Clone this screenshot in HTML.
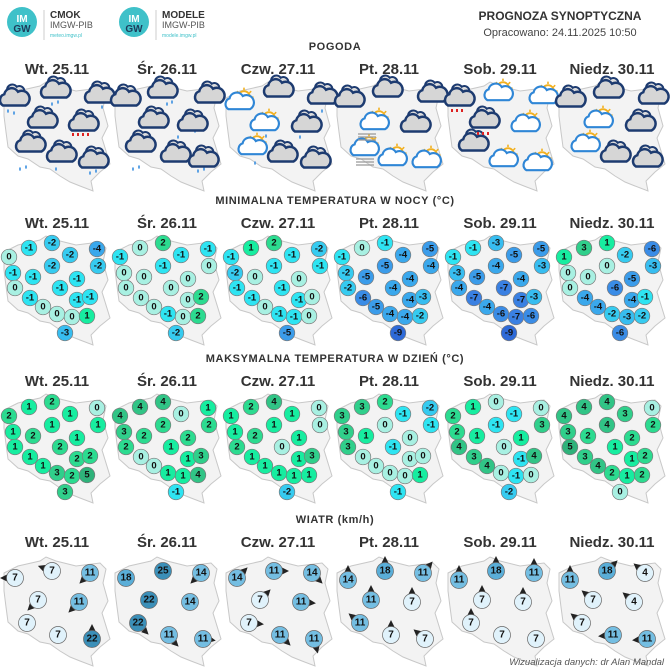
<!DOCTYPE html>
<html><head><meta charset="utf-8">
<style>
html,body{margin:0;padding:0;background:#fff;}
svg{display:block;font-family:"Liberation Sans",sans-serif;}
.t circle{stroke:#7a7a7a;stroke-width:.7}
.t text{font-size:9.5px;font-weight:bold;text-anchor:middle;dominant-baseline:central;fill:#111}
.p5{fill:#2eb27a}.p4{fill:#31c486}.p3{fill:#30cf8b}.p2{fill:#2cdb90}.p1{fill:#17eda0}.z{fill:#a8f0e2}
.m1{fill:#2ee4f2}.m2{fill:#36cbf0}.m3{fill:#37bdf0}.m4{fill:#3aa8ec}.m5{fill:#3b9cea}.m6{fill:#3a8ce6}.m7{fill:#3a80e2}.m9{fill:#2e6ad8}
.w circle{stroke:#666;stroke-width:.7}
.w text{font-size:10px;font-weight:bold;text-anchor:middle;dominant-baseline:central;fill:#111}
.wl{fill:#e0f2fb}.wm{fill:#74bee2}.wh{fill:#5aaed8}.wd{fill:#3b8fb8}
.day{font-size:15px;font-weight:bold;fill:#333;text-anchor:middle}
.hd{font-size:11px;font-weight:bold;fill:#333;text-anchor:middle;letter-spacing:.6px}
</style></head><body>
<svg width="671" height="672" viewBox="0 0 671 672" xmlns="http://www.w3.org/2000/svg">
<defs>
<path id="pl" d="M4,252 L18,245 L40,240 L46,236 L56,240 L76,245 L100,242 L106,248 L103,262 L108,280 L102,292 L110,318 L100,326 L91,335 L93,345 L80,340 L70,336 L60,330 L50,323 L40,321 L28,313 L18,310 L8,301 L6,286 L4,270 Z" fill="#f3f3f3" stroke="#c8c8c8" stroke-width="1"/>
<g id="dc0"><path d="M-4,-4 a4,4 0 0 1 7,-5 a4,4 0 0 1 6,4" fill="#ddd" stroke="#1d3b70" stroke-width="1.6"/><path d="M-8,6 a5,5 0 0 1 1,-9 a6,6 0 0 1 11,-2 a5,5 0 0 1 6,11 z" fill="#d6d6d6" stroke="#1d3b70" stroke-width="2"/></g>
<g id="dc"><use href="#dc0" transform="scale(1.25)"/></g>
<g id="lc0"><circle cx="5" cy="-4" r="5" fill="#fff" stroke="#f2b01e" stroke-width="1.5"/><path d="M5,-12v2M11,-9l-1.5,1.5M13,-4h-2M-1,-9l1.5,1.5" stroke="#f2b01e" stroke-width="1.3"/><path d="M-8,6 a5,5 0 0 1 1,-9 a6,6 0 0 1 11,-2 a5,5 0 0 1 6,11 z" fill="#fff" stroke="#2f86d6" stroke-width="1.8"/></g>
<g id="lc"><use href="#lc0" transform="scale(1.2)"/></g>
<polygon id="ar" points="0,-15 -3.5,-8 3.5,-8" fill="#222"/>
</defs>

<!-- header -->
<circle cx="22" cy="22" r="15" fill="#3fc1c9"/>
<text x="22" y="22" font-size="10" font-weight="bold" fill="#fff" text-anchor="middle">IM</text>
<text x="22" y="32" font-size="10" font-weight="bold" fill="#1d3b5a" text-anchor="middle">GW</text>
<line x1="44" y1="10" x2="44" y2="40" stroke="#ccc"/>
<text x="50" y="18" font-size="10" font-weight="bold" fill="#333">CMOK</text>
<text x="50" y="28" font-size="9" fill="#555">IMGW-PIB</text>
<text x="50" y="37" font-size="5" fill="#3fc1c9">meteo.imgw.pl</text>
<circle cx="134" cy="22" r="15" fill="#3fc1c9"/>
<text x="134" y="22" font-size="10" font-weight="bold" fill="#fff" text-anchor="middle">IM</text>
<text x="134" y="32" font-size="10" font-weight="bold" fill="#1d3b5a" text-anchor="middle">GW</text>
<line x1="156" y1="10" x2="156" y2="40" stroke="#ccc"/>
<text x="162" y="18" font-size="10" font-weight="bold" fill="#333">MODELE</text>
<text x="162" y="28" font-size="9" fill="#555">IMGW-PIB</text>
<text x="162" y="37" font-size="5" fill="#3fc1c9">modele.imgw.pl</text>
<text x="560" y="20" font-size="12" font-weight="bold" fill="#333" text-anchor="middle">PROGNOZA SYNOPTYCZNA</text>
<text x="560" y="36" font-size="11" fill="#444" text-anchor="middle">Opracowano: 24.11.2025 10:50</text>

<text class="hd" x="335" y="50">POGODA</text>
<text class="hd" x="335" y="204">MINIMALNA TEMPERATURA W NOCY (°C)</text>
<text class="hd" x="335" y="362">MAKSYMALNA TEMPERATURA W DZIEŃ (°C)</text>
<text class="hd" x="335" y="523">WIATR (km/h)</text>

<g>
<text class="day" x="57" y="74">Wt. 25.11</text><text class="day" x="167" y="74">Śr. 26.11</text><text class="day" x="278" y="74">Czw. 27.11</text><text class="day" x="389" y="74">Pt. 28.11</text><text class="day" x="500" y="74">Sob. 29.11</text><text class="day" x="612" y="74">Niedz. 30.11</text>
<text class="day" x="57" y="228">Wt. 25.11</text><text class="day" x="167" y="228">Śr. 26.11</text><text class="day" x="278" y="228">Czw. 27.11</text><text class="day" x="389" y="228">Pt. 28.11</text><text class="day" x="500" y="228">Sob. 29.11</text><text class="day" x="612" y="228">Niedz. 30.11</text>
<text class="day" x="57" y="386">Wt. 25.11</text><text class="day" x="167" y="386">Śr. 26.11</text><text class="day" x="278" y="386">Czw. 27.11</text><text class="day" x="389" y="386">Pt. 28.11</text><text class="day" x="500" y="386">Sob. 29.11</text><text class="day" x="612" y="386">Niedz. 30.11</text>
<text class="day" x="57" y="547">Wt. 25.11</text><text class="day" x="167" y="547">Śr. 26.11</text><text class="day" x="278" y="547">Czw. 27.11</text><text class="day" x="389" y="547">Pt. 28.11</text><text class="day" x="500" y="547">Sob. 29.11</text><text class="day" x="612" y="547">Niedz. 30.11</text>
</g>

<!-- maps -->
<use href="#pl" transform="translate(0,-154)"/><use href="#pl" transform="translate(111,-154)"/><use href="#pl" transform="translate(222,-154)"/><use href="#pl" transform="translate(333,-154)"/><use href="#pl" transform="translate(444,-154)"/><use href="#pl" transform="translate(555,-154)"/>
<use href="#pl"/><use href="#pl" transform="translate(111,0)"/><use href="#pl" transform="translate(222,0)"/><use href="#pl" transform="translate(333,0)"/><use href="#pl" transform="translate(444,0)"/><use href="#pl" transform="translate(555,0)"/>
<use href="#pl" transform="translate(0,158)"/><use href="#pl" transform="translate(111,158)"/><use href="#pl" transform="translate(222,158)"/><use href="#pl" transform="translate(333,158)"/><use href="#pl" transform="translate(444,158)"/><use href="#pl" transform="translate(555,158)"/>
<use href="#pl" transform="translate(0,321)"/><use href="#pl" transform="translate(111,321)"/><use href="#pl" transform="translate(222,321)"/><use href="#pl" transform="translate(333,321)"/><use href="#pl" transform="translate(444,321)"/><use href="#pl" transform="translate(555,321)"/>

<!-- weather icons -->
<g>
<path d="M8,110v2M14,112v2M52,103v2M58,101v2M102,106v2M20,168v2M26,166v2M56,168v2M90,172v2M96,170v2M133,168v2M139,166v2M167,103v2M172,101v2M178,136v2M195,130v2M198,170v2M204,168v2M266,135v2M300,136v2M255,162v2M322,110v2" stroke="#3a8fe0" stroke-width="1.6" stroke-linecap="round"/>
<use href="#dc" x="13" y="98"/><use href="#dc" x="54" y="90"/><use href="#dc" x="98" y="95"/><use href="#dc" x="41" y="120"/><use href="#dc" x="82" y="123"/><use href="#dc" x="29" y="144"/><use href="#dc" x="60" y="154"/><use href="#dc" x="92" y="160"/>
<use href="#dc" x="124" y="98"/><use href="#dc" x="161" y="90"/><use href="#dc" x="208" y="95"/><use href="#dc" x="152" y="120"/><use href="#dc" x="191" y="123"/><use href="#dc" x="139" y="144"/><use href="#dc" x="174" y="154"/><use href="#dc" x="202" y="159"/>
<use href="#lc" x="238" y="102"/><use href="#dc" x="277" y="89"/><use href="#dc" x="321" y="96"/><use href="#lc" x="263" y="123"/><use href="#dc" x="305" y="124"/><use href="#lc" x="251" y="147"/><use href="#dc" x="281" y="154"/><use href="#dc" x="314" y="160"/>
<use href="#dc" x="348" y="99"/><use href="#dc" x="386" y="89"/><use href="#dc" x="431" y="94"/><use href="#lc" x="373" y="122"/><use href="#dc" x="414" y="124"/><use href="#lc" x="363" y="148"/><use href="#lc" x="391" y="158"/><use href="#lc" x="425" y="160"/>
<path d="M358,134h18M358,137h18M358,140h18M356,159h18M356,162h18M356,165h18" stroke="#999" stroke-width="1.2"/>
<use href="#dc" x="458" y="98"/><use href="#lc" x="497" y="93"/><use href="#lc" x="542" y="96"/><use href="#dc" x="483" y="120"/><use href="#lc" x="524" y="124"/><use href="#dc" x="472" y="143"/><use href="#lc" x="502" y="159"/><use href="#lc" x="536" y="163"/>
<path d="M452,109v3M457,109v3M462,109v3M478,132v3M483,132v3M488,132v3M73,133v3M78,133v3M83,133v3M88,133v3" stroke="#d22" stroke-width="2"/>
<use href="#dc" x="569" y="99"/><use href="#dc" x="607" y="90"/><use href="#dc" x="652" y="96"/><use href="#lc" x="597" y="120"/><use href="#dc" x="639" y="123"/><use href="#lc" x="584" y="144"/><use href="#dc" x="614" y="154"/><use href="#dc" x="646" y="159"/>
</g>

<!-- MIN -->
<g class="t">
<g>
<circle class="z" cx="9" cy="257" r="7.8"/><text x="9" y="257">0</text>
<circle class="m1" cx="29" cy="248" r="7.8"/><text x="29" y="248">-1</text>
<circle class="m2" cx="52" cy="243" r="7.8"/><text x="52" y="243">-2</text>
<circle class="m4" cx="97" cy="249" r="7.8"/><text x="97" y="249">-4</text>
<circle class="m2" cx="70" cy="255" r="7.8"/><text x="70" y="255">-2</text>
<circle class="m2" cx="98" cy="266" r="7.8"/><text x="98" y="266">-2</text>
<circle class="m2" cx="52" cy="266" r="7.8"/><text x="52" y="266">-2</text>
<circle class="m1" cx="13" cy="273" r="7.8"/><text x="13" y="273">-1</text>
<circle class="m1" cx="33" cy="277" r="7.8"/><text x="33" y="277">-1</text>
<circle class="m1" cx="77" cy="279" r="7.8"/><text x="77" y="279">-1</text>
<circle class="z" cx="15" cy="288" r="7.8"/><text x="15" y="288">0</text>
<circle class="m1" cx="60" cy="288" r="7.8"/><text x="60" y="288">-1</text>
<circle class="m1" cx="77" cy="300" r="7.8"/><text x="77" y="300">-1</text>
<circle class="m1" cx="90" cy="297" r="7.8"/><text x="90" y="297">-1</text>
<circle class="m1" cx="30" cy="298" r="7.8"/><text x="30" y="298">-1</text>
<circle class="z" cx="43" cy="307" r="7.8"/><text x="43" y="307">0</text>
<circle class="z" cx="57" cy="314" r="7.8"/><text x="57" y="314">0</text>
<circle class="z" cx="72" cy="317" r="7.8"/><text x="72" y="317">0</text>
<circle class="p1" cx="87" cy="316" r="7.8"/><text x="87" y="316">1</text>
<circle class="m3" cx="65" cy="333" r="7.8"/><text x="65" y="333">-3</text>
</g>
<g transform="translate(111,0)">
<circle class="m1" cx="9" cy="257" r="7.8"/><text x="9" y="257">-1</text>
<circle class="z" cx="29" cy="248" r="7.8"/><text x="29" y="248">0</text>
<circle class="p2" cx="52" cy="243" r="7.8"/><text x="52" y="243">2</text>
<circle class="m1" cx="97" cy="249" r="7.8"/><text x="97" y="249">-1</text>
<circle class="m1" cx="70" cy="255" r="7.8"/><text x="70" y="255">-1</text>
<circle class="z" cx="98" cy="266" r="7.8"/><text x="98" y="266">0</text>
<circle class="m1" cx="52" cy="266" r="7.8"/><text x="52" y="266">-1</text>
<circle class="z" cx="13" cy="273" r="7.8"/><text x="13" y="273">0</text>
<circle class="z" cx="33" cy="277" r="7.8"/><text x="33" y="277">0</text>
<circle class="z" cx="77" cy="279" r="7.8"/><text x="77" y="279">0</text>
<circle class="z" cx="15" cy="288" r="7.8"/><text x="15" y="288">0</text>
<circle class="z" cx="60" cy="288" r="7.8"/><text x="60" y="288">0</text>
<circle class="z" cx="77" cy="300" r="7.8"/><text x="77" y="300">0</text>
<circle class="p2" cx="90" cy="297" r="7.8"/><text x="90" y="297">2</text>
<circle class="z" cx="30" cy="298" r="7.8"/><text x="30" y="298">0</text>
<circle class="z" cx="43" cy="307" r="7.8"/><text x="43" y="307">0</text>
<circle class="m1" cx="57" cy="314" r="7.8"/><text x="57" y="314">-1</text>
<circle class="z" cx="72" cy="317" r="7.8"/><text x="72" y="317">0</text>
<circle class="p2" cx="87" cy="316" r="7.8"/><text x="87" y="316">2</text>
<circle class="m2" cx="65" cy="333" r="7.8"/><text x="65" y="333">-2</text>
</g>
<g transform="translate(222,0)">
<circle class="m1" cx="9" cy="257" r="7.8"/><text x="9" y="257">-1</text>
<circle class="p1" cx="29" cy="248" r="7.8"/><text x="29" y="248">1</text>
<circle class="p2" cx="52" cy="243" r="7.8"/><text x="52" y="243">2</text>
<circle class="m2" cx="97" cy="249" r="7.8"/><text x="97" y="249">-2</text>
<circle class="m1" cx="70" cy="255" r="7.8"/><text x="70" y="255">-1</text>
<circle class="m1" cx="98" cy="266" r="7.8"/><text x="98" y="266">-1</text>
<circle class="m1" cx="52" cy="266" r="7.8"/><text x="52" y="266">-1</text>
<circle class="m2" cx="13" cy="273" r="7.8"/><text x="13" y="273">-2</text>
<circle class="z" cx="33" cy="277" r="7.8"/><text x="33" y="277">0</text>
<circle class="z" cx="77" cy="279" r="7.8"/><text x="77" y="279">0</text>
<circle class="m1" cx="15" cy="288" r="7.8"/><text x="15" y="288">-1</text>
<circle class="m1" cx="60" cy="288" r="7.8"/><text x="60" y="288">-1</text>
<circle class="m1" cx="77" cy="300" r="7.8"/><text x="77" y="300">-1</text>
<circle class="z" cx="90" cy="297" r="7.8"/><text x="90" y="297">0</text>
<circle class="m1" cx="30" cy="298" r="7.8"/><text x="30" y="298">-1</text>
<circle class="z" cx="43" cy="307" r="7.8"/><text x="43" y="307">0</text>
<circle class="m1" cx="57" cy="314" r="7.8"/><text x="57" y="314">-1</text>
<circle class="m1" cx="72" cy="317" r="7.8"/><text x="72" y="317">-1</text>
<circle class="z" cx="87" cy="316" r="7.8"/><text x="87" y="316">0</text>
<circle class="m5" cx="65" cy="333" r="7.8"/><text x="65" y="333">-5</text>
</g>
<g transform="translate(333,0)">
<circle class="m1" cx="9" cy="257" r="7.8"/><text x="9" y="257">-1</text>
<circle class="z" cx="29" cy="248" r="7.8"/><text x="29" y="248">0</text>
<circle class="m1" cx="52" cy="243" r="7.8"/><text x="52" y="243">-1</text>
<circle class="m5" cx="97" cy="249" r="7.8"/><text x="97" y="249">-5</text>
<circle class="m4" cx="70" cy="255" r="7.8"/><text x="70" y="255">-4</text>
<circle class="m4" cx="98" cy="266" r="7.8"/><text x="98" y="266">-4</text>
<circle class="m5" cx="52" cy="266" r="7.8"/><text x="52" y="266">-5</text>
<circle class="m2" cx="13" cy="273" r="7.8"/><text x="13" y="273">-2</text>
<circle class="m5" cx="33" cy="277" r="7.8"/><text x="33" y="277">-5</text>
<circle class="m4" cx="77" cy="279" r="7.8"/><text x="77" y="279">-4</text>
<circle class="m2" cx="15" cy="288" r="7.8"/><text x="15" y="288">-2</text>
<circle class="m4" cx="60" cy="288" r="7.8"/><text x="60" y="288">-4</text>
<circle class="m4" cx="77" cy="300" r="7.8"/><text x="77" y="300">-4</text>
<circle class="m3" cx="90" cy="297" r="7.8"/><text x="90" y="297">-3</text>
<circle class="m6" cx="30" cy="298" r="7.8"/><text x="30" y="298">-6</text>
<circle class="m5" cx="43" cy="307" r="7.8"/><text x="43" y="307">-5</text>
<circle class="m4" cx="57" cy="314" r="7.8"/><text x="57" y="314">-4</text>
<circle class="m4" cx="72" cy="317" r="7.8"/><text x="72" y="317">-4</text>
<circle class="m2" cx="87" cy="316" r="7.8"/><text x="87" y="316">-2</text>
<circle class="m9" cx="65" cy="333" r="7.8"/><text x="65" y="333">-9</text>
</g>
<g transform="translate(444,0)">
<circle class="m1" cx="9" cy="257" r="7.8"/><text x="9" y="257">-1</text>
<circle class="m1" cx="29" cy="248" r="7.8"/><text x="29" y="248">-1</text>
<circle class="m3" cx="52" cy="243" r="7.8"/><text x="52" y="243">-3</text>
<circle class="m5" cx="97" cy="249" r="7.8"/><text x="97" y="249">-5</text>
<circle class="m5" cx="70" cy="255" r="7.8"/><text x="70" y="255">-5</text>
<circle class="m3" cx="98" cy="266" r="7.8"/><text x="98" y="266">-3</text>
<circle class="m4" cx="52" cy="266" r="7.8"/><text x="52" y="266">-4</text>
<circle class="m3" cx="13" cy="273" r="7.8"/><text x="13" y="273">-3</text>
<circle class="m5" cx="33" cy="277" r="7.8"/><text x="33" y="277">-5</text>
<circle class="m4" cx="77" cy="279" r="7.8"/><text x="77" y="279">-4</text>
<circle class="m4" cx="15" cy="288" r="7.8"/><text x="15" y="288">-4</text>
<circle class="m7" cx="60" cy="288" r="7.8"/><text x="60" y="288">-7</text>
<circle class="m7" cx="77" cy="300" r="7.8"/><text x="77" y="300">-7</text>
<circle class="m3" cx="90" cy="297" r="7.8"/><text x="90" y="297">-3</text>
<circle class="m7" cx="30" cy="298" r="7.8"/><text x="30" y="298">-7</text>
<circle class="m4" cx="43" cy="307" r="7.8"/><text x="43" y="307">-4</text>
<circle class="m6" cx="57" cy="314" r="7.8"/><text x="57" y="314">-6</text>
<circle class="m7" cx="72" cy="317" r="7.8"/><text x="72" y="317">-7</text>
<circle class="m6" cx="87" cy="316" r="7.8"/><text x="87" y="316">-6</text>
<circle class="m9" cx="65" cy="333" r="7.8"/><text x="65" y="333">-9</text>
</g>
<g transform="translate(555,0)">
<circle class="p1" cx="9" cy="257" r="7.8"/><text x="9" y="257">1</text>
<circle class="p3" cx="29" cy="248" r="7.8"/><text x="29" y="248">3</text>
<circle class="p1" cx="52" cy="243" r="7.8"/><text x="52" y="243">1</text>
<circle class="m6" cx="97" cy="249" r="7.8"/><text x="97" y="249">-6</text>
<circle class="m2" cx="70" cy="255" r="7.8"/><text x="70" y="255">-2</text>
<circle class="m3" cx="98" cy="266" r="7.8"/><text x="98" y="266">-3</text>
<circle class="z" cx="52" cy="266" r="7.8"/><text x="52" y="266">0</text>
<circle class="z" cx="13" cy="273" r="7.8"/><text x="13" y="273">0</text>
<circle class="z" cx="33" cy="277" r="7.8"/><text x="33" y="277">0</text>
<circle class="m5" cx="77" cy="279" r="7.8"/><text x="77" y="279">-5</text>
<circle class="z" cx="15" cy="288" r="7.8"/><text x="15" y="288">0</text>
<circle class="m6" cx="60" cy="288" r="7.8"/><text x="60" y="288">-6</text>
<circle class="m4" cx="77" cy="300" r="7.8"/><text x="77" y="300">-4</text>
<circle class="m1" cx="90" cy="297" r="7.8"/><text x="90" y="297">-1</text>
<circle class="m4" cx="30" cy="298" r="7.8"/><text x="30" y="298">-4</text>
<circle class="m4" cx="43" cy="307" r="7.8"/><text x="43" y="307">-4</text>
<circle class="m2" cx="57" cy="314" r="7.8"/><text x="57" y="314">-2</text>
<circle class="m3" cx="72" cy="317" r="7.8"/><text x="72" y="317">-3</text>
<circle class="m2" cx="87" cy="316" r="7.8"/><text x="87" y="316">-2</text>
<circle class="m6" cx="65" cy="333" r="7.8"/><text x="65" y="333">-6</text>
</g>
</g>

<!-- MAX -->
<g class="t" transform="translate(0,159)">
<g>
<circle class="p2" cx="9" cy="257" r="7.8"/><text x="9" y="257">2</text>
<circle class="p1" cx="29" cy="248" r="7.8"/><text x="29" y="248">1</text>
<circle class="p2" cx="52" cy="243" r="7.8"/><text x="52" y="243">2</text>
<circle class="z" cx="97" cy="249" r="7.8"/><text x="97" y="249">0</text>
<circle class="p1" cx="70" cy="255" r="7.8"/><text x="70" y="255">1</text>
<circle class="p1" cx="98" cy="266" r="7.8"/><text x="98" y="266">1</text>
<circle class="p1" cx="52" cy="266" r="7.8"/><text x="52" y="266">1</text>
<circle class="p1" cx="13" cy="273" r="7.8"/><text x="13" y="273">1</text>
<circle class="p2" cx="33" cy="277" r="7.8"/><text x="33" y="277">2</text>
<circle class="p1" cx="77" cy="279" r="7.8"/><text x="77" y="279">1</text>
<circle class="p1" cx="15" cy="288" r="7.8"/><text x="15" y="288">1</text>
<circle class="p2" cx="60" cy="288" r="7.8"/><text x="60" y="288">2</text>
<circle class="p2" cx="77" cy="300" r="7.8"/><text x="77" y="300">2</text>
<circle class="p2" cx="90" cy="297" r="7.8"/><text x="90" y="297">2</text>
<circle class="p1" cx="30" cy="298" r="7.8"/><text x="30" y="298">1</text>
<circle class="p1" cx="43" cy="307" r="7.8"/><text x="43" y="307">1</text>
<circle class="p3" cx="57" cy="314" r="7.8"/><text x="57" y="314">3</text>
<circle class="p2" cx="72" cy="317" r="7.8"/><text x="72" y="317">2</text>
<circle class="p5" cx="87" cy="316" r="7.8"/><text x="87" y="316">5</text>
<circle class="p3" cx="65" cy="333" r="7.8"/><text x="65" y="333">3</text>
</g>
<g transform="translate(111,0)">
<circle class="p4" cx="9" cy="257" r="7.8"/><text x="9" y="257">4</text>
<circle class="p4" cx="29" cy="248" r="7.8"/><text x="29" y="248">4</text>
<circle class="p4" cx="52" cy="243" r="7.8"/><text x="52" y="243">4</text>
<circle class="p1" cx="97" cy="249" r="7.8"/><text x="97" y="249">1</text>
<circle class="z" cx="70" cy="255" r="7.8"/><text x="70" y="255">0</text>
<circle class="p2" cx="98" cy="266" r="7.8"/><text x="98" y="266">2</text>
<circle class="p2" cx="52" cy="266" r="7.8"/><text x="52" y="266">2</text>
<circle class="p3" cx="13" cy="273" r="7.8"/><text x="13" y="273">3</text>
<circle class="p2" cx="33" cy="277" r="7.8"/><text x="33" y="277">2</text>
<circle class="p2" cx="77" cy="279" r="7.8"/><text x="77" y="279">2</text>
<circle class="p2" cx="15" cy="288" r="7.8"/><text x="15" y="288">2</text>
<circle class="p1" cx="60" cy="288" r="7.8"/><text x="60" y="288">1</text>
<circle class="p1" cx="77" cy="300" r="7.8"/><text x="77" y="300">1</text>
<circle class="p3" cx="90" cy="297" r="7.8"/><text x="90" y="297">3</text>
<circle class="z" cx="30" cy="298" r="7.8"/><text x="30" y="298">0</text>
<circle class="z" cx="43" cy="307" r="7.8"/><text x="43" y="307">0</text>
<circle class="p1" cx="57" cy="314" r="7.8"/><text x="57" y="314">1</text>
<circle class="p1" cx="72" cy="317" r="7.8"/><text x="72" y="317">1</text>
<circle class="p4" cx="87" cy="316" r="7.8"/><text x="87" y="316">4</text>
<circle class="m1" cx="65" cy="333" r="7.8"/><text x="65" y="333">-1</text>
</g>
<g transform="translate(222,0)">
<circle class="p1" cx="9" cy="257" r="7.8"/><text x="9" y="257">1</text>
<circle class="p2" cx="29" cy="248" r="7.8"/><text x="29" y="248">2</text>
<circle class="p4" cx="52" cy="243" r="7.8"/><text x="52" y="243">4</text>
<circle class="z" cx="97" cy="249" r="7.8"/><text x="97" y="249">0</text>
<circle class="p1" cx="70" cy="255" r="7.8"/><text x="70" y="255">1</text>
<circle class="z" cx="98" cy="266" r="7.8"/><text x="98" y="266">0</text>
<circle class="p1" cx="52" cy="266" r="7.8"/><text x="52" y="266">1</text>
<circle class="p1" cx="13" cy="273" r="7.8"/><text x="13" y="273">1</text>
<circle class="p2" cx="33" cy="277" r="7.8"/><text x="33" y="277">2</text>
<circle class="p1" cx="77" cy="279" r="7.8"/><text x="77" y="279">1</text>
<circle class="p2" cx="15" cy="288" r="7.8"/><text x="15" y="288">2</text>
<circle class="z" cx="60" cy="288" r="7.8"/><text x="60" y="288">0</text>
<circle class="p1" cx="77" cy="300" r="7.8"/><text x="77" y="300">1</text>
<circle class="p3" cx="90" cy="297" r="7.8"/><text x="90" y="297">3</text>
<circle class="p1" cx="30" cy="298" r="7.8"/><text x="30" y="298">1</text>
<circle class="p1" cx="43" cy="307" r="7.8"/><text x="43" y="307">1</text>
<circle class="p1" cx="57" cy="314" r="7.8"/><text x="57" y="314">1</text>
<circle class="p1" cx="72" cy="317" r="7.8"/><text x="72" y="317">1</text>
<circle class="p1" cx="87" cy="316" r="7.8"/><text x="87" y="316">1</text>
<circle class="m2" cx="65" cy="333" r="7.8"/><text x="65" y="333">-2</text>
</g>
<g transform="translate(333,0)">
<circle class="p3" cx="9" cy="257" r="7.8"/><text x="9" y="257">3</text>
<circle class="p3" cx="29" cy="248" r="7.8"/><text x="29" y="248">3</text>
<circle class="p2" cx="52" cy="243" r="7.8"/><text x="52" y="243">2</text>
<circle class="m2" cx="97" cy="249" r="7.8"/><text x="97" y="249">-2</text>
<circle class="m1" cx="70" cy="255" r="7.8"/><text x="70" y="255">-1</text>
<circle class="m1" cx="98" cy="266" r="7.8"/><text x="98" y="266">-1</text>
<circle class="z" cx="52" cy="266" r="7.8"/><text x="52" y="266">0</text>
<circle class="p3" cx="13" cy="273" r="7.8"/><text x="13" y="273">3</text>
<circle class="p1" cx="33" cy="277" r="7.8"/><text x="33" y="277">1</text>
<circle class="z" cx="77" cy="279" r="7.8"/><text x="77" y="279">0</text>
<circle class="p3" cx="15" cy="288" r="7.8"/><text x="15" y="288">3</text>
<circle class="m1" cx="60" cy="288" r="7.8"/><text x="60" y="288">-1</text>
<circle class="z" cx="77" cy="300" r="7.8"/><text x="77" y="300">0</text>
<circle class="z" cx="90" cy="297" r="7.8"/><text x="90" y="297">0</text>
<circle class="z" cx="30" cy="298" r="7.8"/><text x="30" y="298">0</text>
<circle class="z" cx="43" cy="307" r="7.8"/><text x="43" y="307">0</text>
<circle class="z" cx="57" cy="314" r="7.8"/><text x="57" y="314">0</text>
<circle class="z" cx="72" cy="317" r="7.8"/><text x="72" y="317">0</text>
<circle class="p1" cx="87" cy="316" r="7.8"/><text x="87" y="316">1</text>
<circle class="m1" cx="65" cy="333" r="7.8"/><text x="65" y="333">-1</text>
</g>
<g transform="translate(444,0)">
<circle class="p2" cx="9" cy="257" r="7.8"/><text x="9" y="257">2</text>
<circle class="p1" cx="29" cy="248" r="7.8"/><text x="29" y="248">1</text>
<circle class="z" cx="52" cy="243" r="7.8"/><text x="52" y="243">0</text>
<circle class="z" cx="97" cy="249" r="7.8"/><text x="97" y="249">0</text>
<circle class="m1" cx="70" cy="255" r="7.8"/><text x="70" y="255">-1</text>
<circle class="p3" cx="98" cy="266" r="7.8"/><text x="98" y="266">3</text>
<circle class="m1" cx="52" cy="266" r="7.8"/><text x="52" y="266">-1</text>
<circle class="p2" cx="13" cy="273" r="7.8"/><text x="13" y="273">2</text>
<circle class="p1" cx="33" cy="277" r="7.8"/><text x="33" y="277">1</text>
<circle class="p1" cx="77" cy="279" r="7.8"/><text x="77" y="279">1</text>
<circle class="p4" cx="15" cy="288" r="7.8"/><text x="15" y="288">4</text>
<circle class="z" cx="60" cy="288" r="7.8"/><text x="60" y="288">0</text>
<circle class="m1" cx="77" cy="300" r="7.8"/><text x="77" y="300">-1</text>
<circle class="p4" cx="90" cy="297" r="7.8"/><text x="90" y="297">4</text>
<circle class="p3" cx="30" cy="298" r="7.8"/><text x="30" y="298">3</text>
<circle class="p4" cx="43" cy="307" r="7.8"/><text x="43" y="307">4</text>
<circle class="z" cx="57" cy="314" r="7.8"/><text x="57" y="314">0</text>
<circle class="m1" cx="72" cy="317" r="7.8"/><text x="72" y="317">-1</text>
<circle class="z" cx="87" cy="316" r="7.8"/><text x="87" y="316">0</text>
<circle class="m2" cx="65" cy="333" r="7.8"/><text x="65" y="333">-2</text>
</g>
<g transform="translate(555,0)">
<circle class="p4" cx="9" cy="257" r="7.8"/><text x="9" y="257">4</text>
<circle class="p4" cx="29" cy="248" r="7.8"/><text x="29" y="248">4</text>
<circle class="p4" cx="52" cy="243" r="7.8"/><text x="52" y="243">4</text>
<circle class="z" cx="97" cy="249" r="7.8"/><text x="97" y="249">0</text>
<circle class="p3" cx="70" cy="255" r="7.8"/><text x="70" y="255">3</text>
<circle class="p2" cx="98" cy="266" r="7.8"/><text x="98" y="266">2</text>
<circle class="p4" cx="52" cy="266" r="7.8"/><text x="52" y="266">4</text>
<circle class="p3" cx="13" cy="273" r="7.8"/><text x="13" y="273">3</text>
<circle class="p2" cx="33" cy="277" r="7.8"/><text x="33" y="277">2</text>
<circle class="p2" cx="77" cy="279" r="7.8"/><text x="77" y="279">2</text>
<circle class="p5" cx="15" cy="288" r="7.8"/><text x="15" y="288">5</text>
<circle class="p1" cx="60" cy="288" r="7.8"/><text x="60" y="288">1</text>
<circle class="p1" cx="77" cy="300" r="7.8"/><text x="77" y="300">1</text>
<circle class="p2" cx="90" cy="297" r="7.8"/><text x="90" y="297">2</text>
<circle class="p3" cx="30" cy="298" r="7.8"/><text x="30" y="298">3</text>
<circle class="p4" cx="43" cy="307" r="7.8"/><text x="43" y="307">4</text>
<circle class="p2" cx="57" cy="314" r="7.8"/><text x="57" y="314">2</text>
<circle class="p1" cx="72" cy="317" r="7.8"/><text x="72" y="317">1</text>
<circle class="p2" cx="87" cy="316" r="7.8"/><text x="87" y="316">2</text>
<circle class="z" cx="65" cy="333" r="7.8"/><text x="65" y="333">0</text>
</g>
</g>

<!-- WIND -->
<g class="w">
<g>
<use href="#ar" transform="translate(15,578) rotate(270)"/><use href="#ar" transform="translate(52,571) rotate(290)"/><use href="#ar" transform="translate(90,573) rotate(225)"/><use href="#ar" transform="translate(38,600) rotate(225)"/><use href="#ar" transform="translate(79,602) rotate(225)"/><use href="#ar" transform="translate(92,639) rotate(0)"/>
<circle class="wl" cx="15" cy="578" r="8.5"/><text x="15" y="578">7</text>
<circle class="wl" cx="52" cy="571" r="8.5"/><text x="52" y="571">7</text>
<circle class="wm" cx="90" cy="573" r="8.5"/><text x="90" y="573">11</text>
<circle class="wl" cx="38" cy="600" r="8.5"/><text x="38" y="600">7</text>
<circle class="wm" cx="79" cy="602" r="8.5"/><text x="79" y="602">11</text>
<circle class="wl" cx="27" cy="623" r="8.5"/><text x="27" y="623">7</text>
<circle class="wl" cx="58" cy="635" r="8.5"/><text x="58" y="635">7</text>
<circle class="wd" cx="92" cy="639" r="8.5"/><text x="92" y="639">22</text>
</g>
<g transform="translate(111,0)">
<use href="#ar" transform="translate(90,573) rotate(225)"/><use href="#ar" transform="translate(27,624) rotate(135)"/><use href="#ar" transform="translate(57,636) rotate(135)"/><use href="#ar" transform="translate(90,638) rotate(100)"/>
<circle class="wh" cx="15" cy="578" r="8.5"/><text x="15" y="578">18</text>
<circle class="wd" cx="52" cy="571" r="8.5"/><text x="52" y="571">25</text>
<circle class="wm" cx="90" cy="573" r="8.5"/><text x="90" y="573">14</text>
<circle class="wd" cx="38" cy="600" r="8.5"/><text x="38" y="600">22</text>
<circle class="wm" cx="79" cy="602" r="8.5"/><text x="79" y="602">14</text>
<circle class="wd" cx="27" cy="623" r="8.5"/><text x="27" y="623">22</text>
<circle class="wm" cx="58" cy="635" r="8.5"/><text x="58" y="635">11</text>
<circle class="wm" cx="92" cy="639" r="8.5"/><text x="92" y="639">11</text>
</g>
<g transform="translate(222,0)">
<use href="#ar" transform="translate(15,578) rotate(45)"/><use href="#ar" transform="translate(52,571) rotate(90)"/><use href="#ar" transform="translate(90,573) rotate(135)"/><use href="#ar" transform="translate(38,600) rotate(45)"/><use href="#ar" transform="translate(79,602) rotate(95)"/><use href="#ar" transform="translate(27,623) rotate(95)"/><use href="#ar" transform="translate(58,635) rotate(135)"/><use href="#ar" transform="translate(92,639) rotate(165)"/>
<circle class="wm" cx="15" cy="578" r="8.5"/><text x="15" y="578">14</text>
<circle class="wm" cx="52" cy="571" r="8.5"/><text x="52" y="571">11</text>
<circle class="wm" cx="90" cy="573" r="8.5"/><text x="90" y="573">14</text>
<circle class="wl" cx="38" cy="600" r="8.5"/><text x="38" y="600">7</text>
<circle class="wm" cx="79" cy="602" r="8.5"/><text x="79" y="602">11</text>
<circle class="wl" cx="27" cy="623" r="8.5"/><text x="27" y="623">7</text>
<circle class="wm" cx="58" cy="635" r="8.5"/><text x="58" y="635">11</text>
<circle class="wm" cx="92" cy="639" r="8.5"/><text x="92" y="639">11</text>
</g>
<g transform="translate(333,0)">
<use href="#ar" transform="translate(15,580) rotate(0)"/><use href="#ar" transform="translate(52,571) rotate(0)"/><use href="#ar" transform="translate(90,573) rotate(40)"/><use href="#ar" transform="translate(38,600) rotate(0)"/><use href="#ar" transform="translate(79,602) rotate(0)"/><use href="#ar" transform="translate(27,623) rotate(310)"/><use href="#ar" transform="translate(58,635) rotate(0)"/><use href="#ar" transform="translate(92,639) rotate(310)"/>
<circle class="wm" cx="15" cy="580" r="8.5"/><text x="15" y="580">14</text>
<circle class="wh" cx="52" cy="571" r="8.5"/><text x="52" y="571">18</text>
<circle class="wm" cx="90" cy="573" r="8.5"/><text x="90" y="573">11</text>
<circle class="wm" cx="38" cy="600" r="8.5"/><text x="38" y="600">11</text>
<circle class="wl" cx="79" cy="602" r="8.5"/><text x="79" y="602">7</text>
<circle class="wm" cx="27" cy="623" r="8.5"/><text x="27" y="623">11</text>
<circle class="wl" cx="58" cy="635" r="8.5"/><text x="58" y="635">7</text>
<circle class="wl" cx="92" cy="639" r="8.5"/><text x="92" y="639">7</text>
</g>
<g transform="translate(444,0)">
<use href="#ar" transform="translate(15,580) rotate(0)"/><use href="#ar" transform="translate(52,571) rotate(0)"/><use href="#ar" transform="translate(90,573) rotate(0)"/><use href="#ar" transform="translate(38,600) rotate(0)"/><use href="#ar" transform="translate(79,602) rotate(0)"/><use href="#ar" transform="translate(27,623) rotate(0)"/>
<circle class="wm" cx="15" cy="580" r="8.5"/><text x="15" y="580">11</text>
<circle class="wh" cx="52" cy="571" r="8.5"/><text x="52" y="571">18</text>
<circle class="wm" cx="90" cy="573" r="8.5"/><text x="90" y="573">11</text>
<circle class="wl" cx="38" cy="600" r="8.5"/><text x="38" y="600">7</text>
<circle class="wl" cx="79" cy="602" r="8.5"/><text x="79" y="602">7</text>
<circle class="wl" cx="27" cy="623" r="8.5"/><text x="27" y="623">7</text>
<circle class="wl" cx="58" cy="635" r="8.5"/><text x="58" y="635">7</text>
<circle class="wl" cx="92" cy="639" r="8.5"/><text x="92" y="639">7</text>
</g>
<g transform="translate(555,0)">
<use href="#ar" transform="translate(15,580) rotate(0)"/><use href="#ar" transform="translate(52,571) rotate(45)"/><use href="#ar" transform="translate(90,573) rotate(310)"/><use href="#ar" transform="translate(38,600) rotate(310)"/><use href="#ar" transform="translate(79,602) rotate(310)"/><use href="#ar" transform="translate(27,623) rotate(310)"/><use href="#ar" transform="translate(58,635) rotate(265)"/><use href="#ar" transform="translate(92,639) rotate(265)"/>
<circle class="wm" cx="15" cy="580" r="8.5"/><text x="15" y="580">11</text>
<circle class="wh" cx="52" cy="571" r="8.5"/><text x="52" y="571">18</text>
<circle class="wl" cx="90" cy="573" r="8.5"/><text x="90" y="573">4</text>
<circle class="wl" cx="38" cy="600" r="8.5"/><text x="38" y="600">7</text>
<circle class="wl" cx="79" cy="602" r="8.5"/><text x="79" y="602">4</text>
<circle class="wl" cx="27" cy="623" r="8.5"/><text x="27" y="623">7</text>
<circle class="wm" cx="58" cy="635" r="8.5"/><text x="58" y="635">11</text>
<circle class="wm" cx="92" cy="639" r="8.5"/><text x="92" y="639">11</text>
</g>
</g>

<text x="664" y="665" font-size="9.5" font-style="italic" fill="#555" text-anchor="end">Wizualizacja danych: dr Alan Mandal</text>
</svg>
</body></html>
